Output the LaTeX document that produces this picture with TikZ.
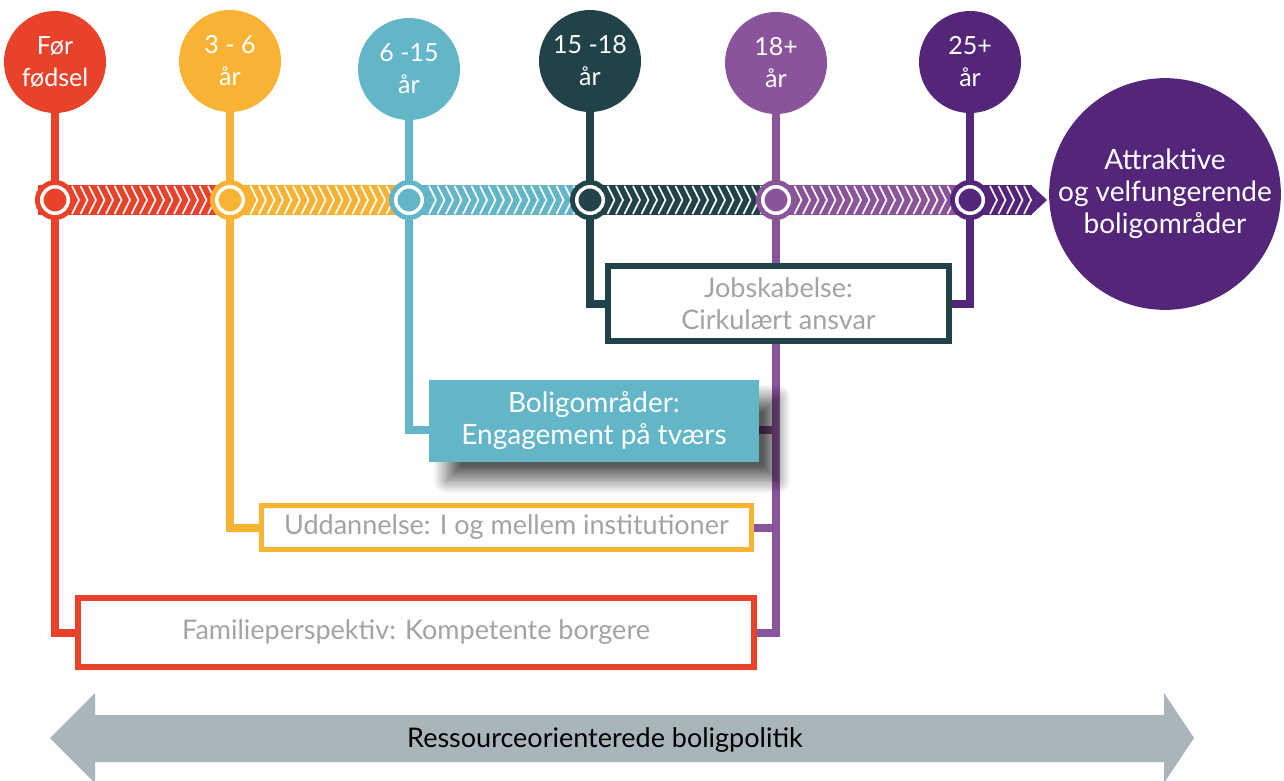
\documentclass[tikz,border=0pt]{standalone}
\usepackage{fontspec}
\setmainfont{Lato}
\usetikzlibrary{backgrounds,shadows.blur}
\definecolor{ored}{HTML}{E8432A}
\definecolor{oyel}{HTML}{F8B234}
\definecolor{oteal}{HTML}{62B6C8}
\definecolor{odark}{HTML}{22424A}
\definecolor{opurp}{HTML}{8A549B}
\definecolor{odpurp}{HTML}{54267A}
\definecolor{ogray}{HTML}{A8B5BA}
\definecolor{otext}{HTML}{A3A3A3}
\begin{document}
\begin{tikzpicture}[x=1pt,y=-1pt,inner sep=0pt,outer sep=0pt,
age/.style={circle,fill=#1,minimum size=102pt,text=white,align=center,font=\fontsize{25}{32}\selectfont},
dot/.style={circle,fill=#1,draw=#1,double=white,double distance=3.5pt,line width=5pt,minimum size=26.5pt},
link/.style={draw=#1,line width=8pt},
goalbox/.style={draw=#1,fill=white,line width=6pt,rectangle,text=otext,align=center,font=\fontsize{27}{32}\selectfont}]
\useasboundingbox (0,0) rectangle (1284,780);
% timeline band with chevrons
\foreach \xa/\xb/\c in {38/230/ored,230/409/oyel,409/590/oteal,590/776/odark,776/970/opurp,970/1032/odpurp}
  \fill[\c] (\xa,185) rectangle (\xb,215);
\fill[odpurp] (1031,185) -- (1047,200) -- (1031,215) -- cycle;
\foreach \x in {72,80.5,...,1030}
  \draw[white,line width=1.6pt] (\x,186) -- (\x+7,200) -- (\x,214);
% dots on the timeline
\draw (55,200) node[dot=ored] (t1) {};
\draw (230,200) node[dot=oyel] (t2) {};
\draw (409,200) node[dot=oteal] (t3) {};
\draw (590,200) node[dot=odark] (t4) {};
\draw (776,200) node[dot=opurp] (t5) {};
\draw (970,200) node[dot=odpurp] (t6) {};
% age circles
\draw (55,62) node[age=ored] (c1) {Før\\fødsel};
\draw (230,61) node[age=oyel] (c2) {3 - 6\\år};
\draw (409,69) node[age=oteal] (c3) {6 -15\\år};
\draw (590,61) node[age=odark] (c4) {15 -18\\år};
\draw (776,63) node[age=opurp] (c5) {18+\\år};
\draw (970,62) node[age=odpurp] (c6) {25+\\år};
\draw (1165,194) node[circle,fill=odpurp,minimum size=214pt,text=white,align=center,font=\fontsize{28}{32}\selectfont] (goal) {Attraktive\\og velfungerende\\boligområder};
% boxes
\draw (778.5,303.5) node[goalbox=odark,minimum width=341pt,minimum height=75pt] (job) {Jobskabelse:\\Cirkulært ansvar};
\draw (594,421) node[rectangle,fill=oteal,minimum width=330pt,minimum height=82pt,text=white,align=center,font=\fontsize{28}{32}\selectfont,
  blur shadow={shadow xshift=18pt,shadow yshift=-18pt,shadow blur radius=14pt,shadow blur steps=30,shadow opacity=65}] (bolig) {Boligområder:\\Engagement på tværs};
\draw (506.5,527.5) node[goalbox=oyel,line width=5pt,minimum width=490pt,minimum height=44pt] (udd) {Uddannelse: I og mellem institutioner};
\draw (416,632.5) node[goalbox=ored,minimum width=676pt,minimum height=69pt] (famil) {Familieperspektiv: Kompetente borgere};
% connectors
\begin{scope}[on background layer]
\draw[link=ored] (c1) -- (t1);
\draw[link=oyel] (c2) -- (t2);
\draw[link=oteal] (c3) -- (t3);
\draw[link=odark] (c4) -- (t4);
\draw[link=opurp] (c5) -- (t5);
\draw[link=odpurp] (c6) -- (t6);
\draw[link=ored] (t1) |- (famil.west);
\draw[link=oyel] (t2) |- (udd.west);
\draw[link=oteal] (t3) |- ([yshift=-9pt]bolig.west);
\draw[link=odark] (t4) |- (job.west);
\draw[link=odpurp] (t6) |- (job.east);
\draw[link=opurp] (t5) |- (famil.east);
\draw[link=opurp] (t5) |- (udd.east);
\draw[link=opurp] (t5) |- ([yshift=-9pt]bolig.east);
\end{scope}
% policy arrow
\fill[ogray] (50,738) -- (95,693) -- (95,715) -- (1164,715) -- (1164,693) -- (1194,738) -- (1164,783) -- (1164,762) -- (95,762) -- (95,783) -- cycle;
\draw (605,740) node[font=\fontsize{27}{30}\selectfont] (policy) {Ressourceorienterede boligpolitik};
\end{tikzpicture}
\end{document}
